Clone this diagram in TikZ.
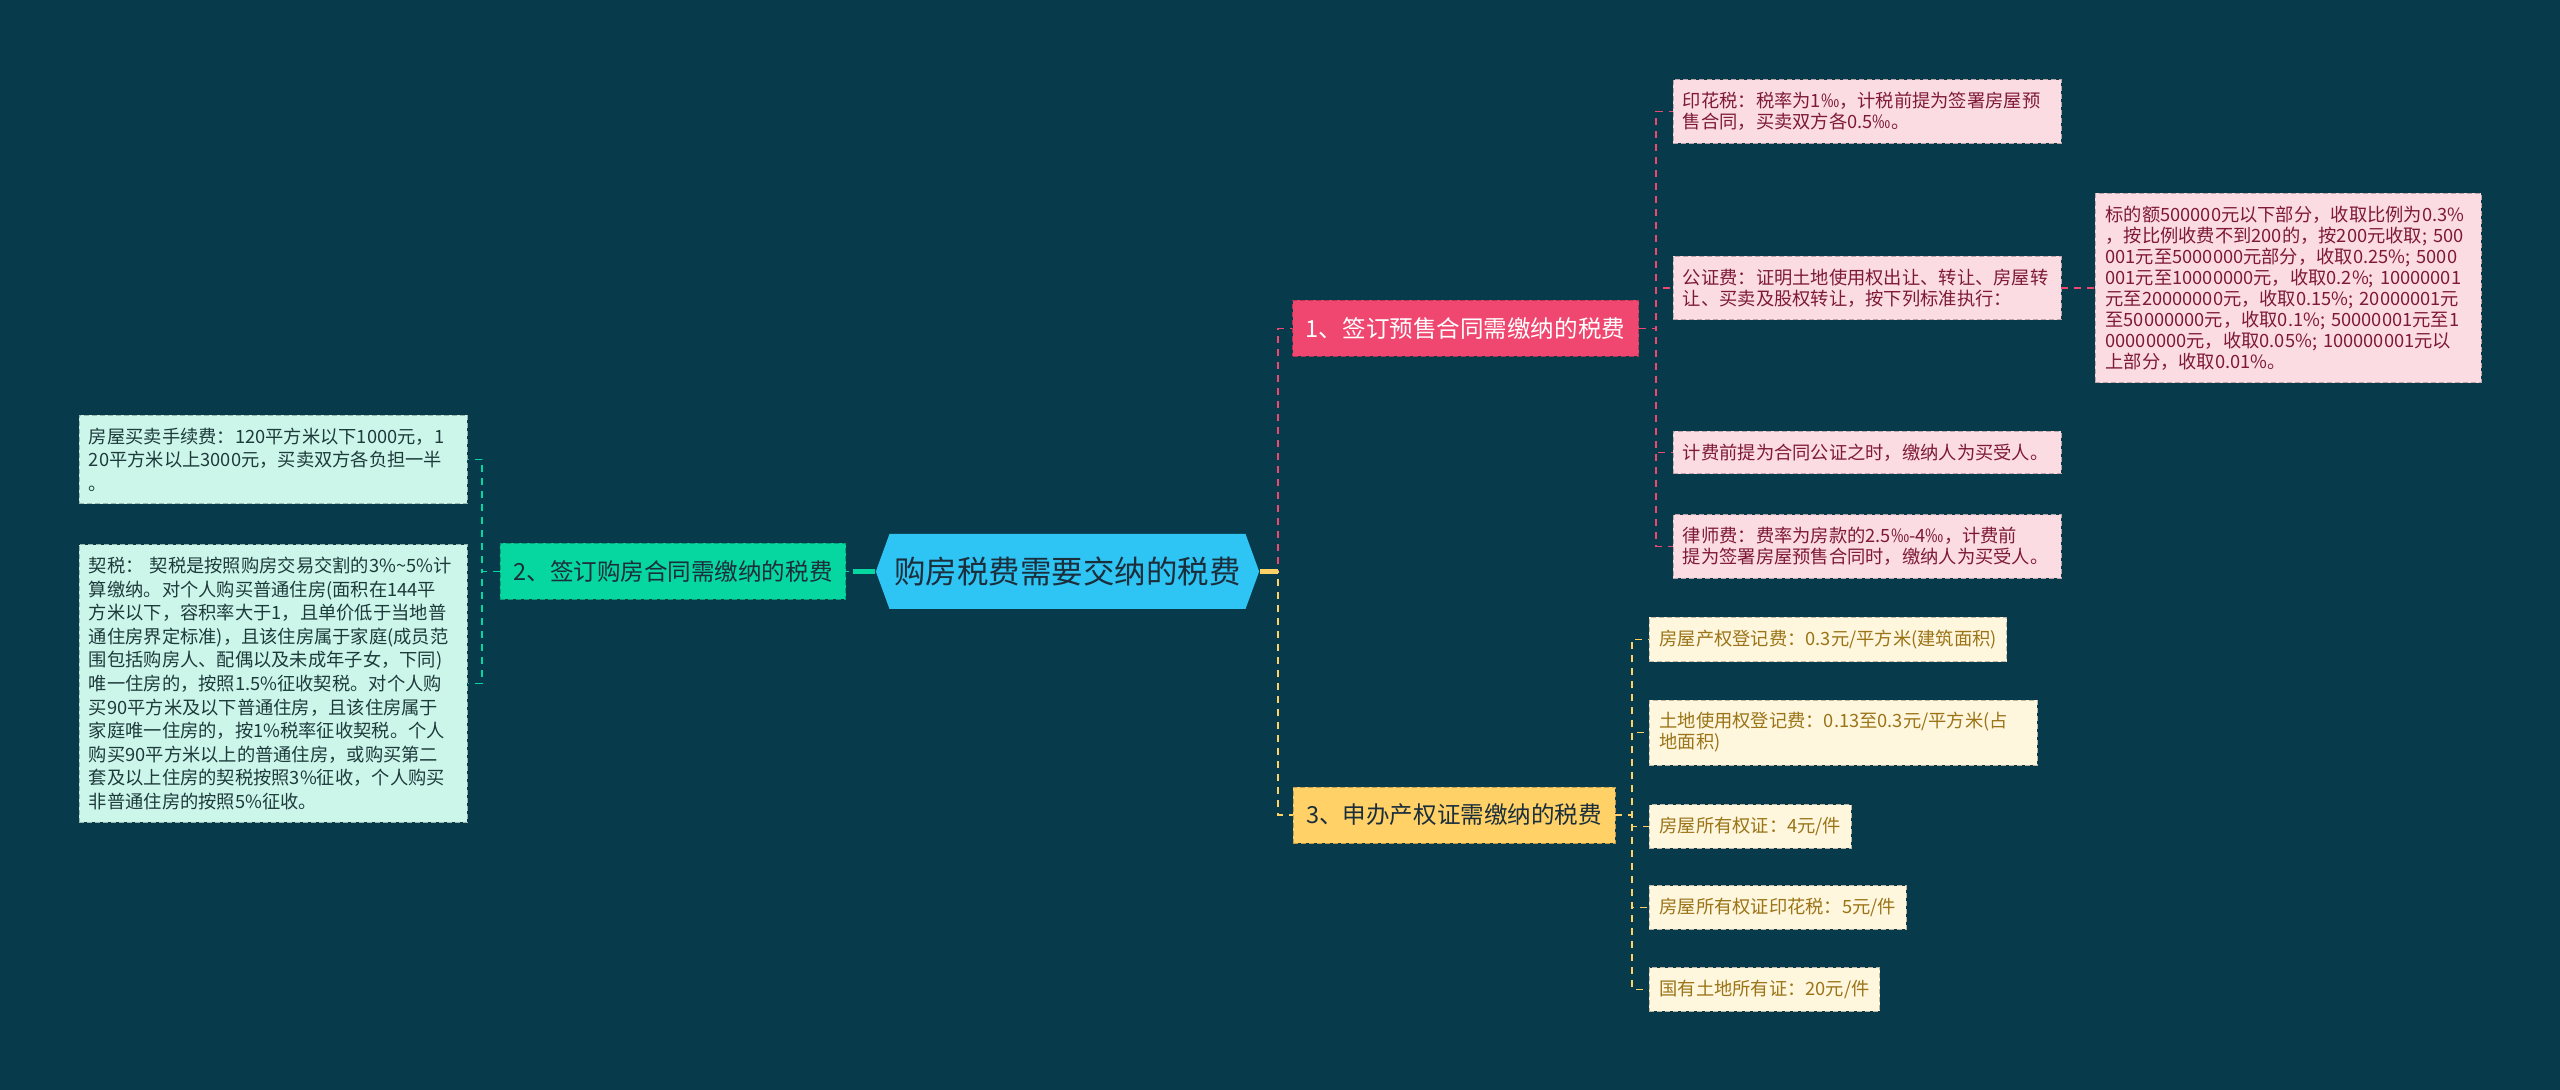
\documentclass[tikz,border=0pt]{standalone}
\usepackage{fontspec}
\setmainfont{Noto Sans CJK SC}
\usetikzlibrary{shapes.symbols}
\definecolor{bgc}{HTML}{073B4C}
\definecolor{rootc}{HTML}{2EC4F4}
\definecolor{redc}{HTML}{EF476F}
\definecolor{greenc}{HTML}{06D6A0}
\definecolor{yellowc}{HTML}{FFD166}
\definecolor{pinkbox}{HTML}{FCDCE3}
\definecolor{pinktext}{HTML}{7E1A38}
\definecolor{mintbox}{HTML}{CDF6EB}
\definecolor{minttext}{HTML}{1E3B3C}
\definecolor{creambox}{HTML}{FFF6DE}
\definecolor{creamtext}{HTML}{9A7417}
\definecolor{darktext}{HTML}{1B2E3C}

\begin{document}
\begin{tikzpicture}[
    rootnode/.style={shape=signal, signal to=east and west, signal pointer angle=140, fill=rootc, text=darktext, minimum width=7.58cm, minimum height=1.5cm, inner sep=0.1cm, font=\fontsize{17.9}{20}\selectfont},
    branch/.style={draw=#1!75!black, fill=#1, dash pattern=on 0.1cm off 0.06cm, line width=0.5pt, minimum height=1.12cm, inner xsep=0.22cm, font=\fontsize{13.4}{15}\selectfont},
    leaf/.style={dash pattern=on 0.1cm off 0.06cm, line width=0.5pt, anchor=west, align=left, inner xsep=0.2cm, inner ysep=0.25cm, font=\fontsize{10.4}{11.95}\selectfont},
    pinkleaf/.style={leaf, draw=pinkbox!75!black, fill=pinkbox, text=pinktext},
    creamleaf/.style={leaf, draw=creambox!75!black, fill=creambox, text=creamtext},
    mintleaf/.style={leaf, draw=mintbox!75!black, fill=mintbox, text=minttext, font=\fontsize{10.4}{13.4}\selectfont},
    link/.style={draw=#1, line width=1.1pt, dash pattern=on 0.14cm off 0.12cm},
    stub/.style={draw=#1, line width=2.3pt}
]
    \useasboundingbox (0,0) rectangle (51.2,21.8);
    \fill[bgc] (0,0) rectangle (51.2,21.8);

    \node[rootnode] (root) at (21.35,10.37) {购房税费需要交纳的税费};

    \node[branch=redc, text=white, minimum width=6.92cm] (sign) at (29.31,15.23) {1、签订预售合同需缴纳的税费};
    \node[branch=greenc, text=darktext, minimum width=6.91cm] (buy) at (13.46,10.37) {2、签订购房合同需缴纳的税费};
    \node[branch=yellowc, text=darktext, minimum width=6.44cm] (permit) at (29.08,5.50) {3、申办产权证需缴纳的税费};

    \node[pinkleaf, text width=7.36cm] (stamp) at (33.45,19.57) {印花税：税率为1‰，计税前提为签署房屋预\\售合同，买卖双方各0.5‰。};
    \node[pinkleaf, text width=7.36cm] (notary) at (33.45,16.04) {公证费：证明土地使用权出让、转让、房屋转\\让、买卖及股权转让，按下列标准执行：};
    \node[pinkleaf, text width=7.36cm] (timing) at (33.45,12.75) {计费前提为合同公证之时，缴纳人为买受人。};
    \node[pinkleaf, text width=7.36cm] (lawyer) at (33.45,10.87) {律师费：费率为房款的2.5‰-4‰，计费前\\提为签署房屋预售合同时，缴纳人为买受人。};
    \node[pinkleaf, text width=7.31cm] (scale) at (41.90,16.04) {标的额500000元以下部分，收取比例为0.3\%\\，按比例收费不到200的，按200元收取;~500\\001元至5000000元部分，收取0.25\%;~5000\\001元至10000000元，收取0.2\%;~10000001\\元至20000000元，收取0.15\%;~20000001元\\至50000000元，收取0.1\%;~50000001元至1\\00000000元，收取0.05\%;~100000001元以\\上部分，收取0.01\%。};

    \node[creamleaf] (regfee) at (32.98,9.01) {房屋产权登记费：0.3元/平方米(建筑面积)};
    \node[creamleaf, text width=7.36cm] (landfee) at (32.98,7.15) {土地使用权登记费：0.13至0.3元/平方米(占\\地面积)};
    \node[creamleaf] (certfee) at (32.98,3.65+1.62) {房屋所有权证：4元/件};
    \node[creamleaf] (certstamp) at (32.98,3.65) {房屋所有权证印花税：5元/件};
    \node[creamleaf] (landcert) at (32.98,2.01) {国有土地所有证：20元/件};

    \node[mintleaf, text width=7.37cm] (agency) at (1.57,12.61) {房屋买卖手续费：120平方米以下1000元，1\\20平方米以上3000元，买卖双方各负担一半\\。};
    \node[mintleaf, text width=7.37cm] (deed) at (1.57,8.13) {契税：~契税是按照购房交易交割的3\%\textasciitilde5\%计\\算缴纳。对个人购买普通住房(面积在144平\\方米以下，容积率大于1，且单价低于当地普\\通住房界定标准)，且该住房属于家庭(成员范\\围包括购房人、配偶以及未成年子女，下同)\\唯一住房的，按照1.5\%征收契税。对个人购\\买90平方米及以下普通住房，且该住房属于\\家庭唯一住房的，按1\%税率征收契税。个人\\购买90平方米以上的普通住房，或购买第二\\套及以上住房的契税按照3\%征收，个人购买\\非普通住房的按照5\%征收。};

    \draw[link=redc] (root.east) -- ++(0.37,0) |- (sign.west);
    \draw[link=yellowc] (root.east) -- ++(0.37,0) |- (permit.west);
    \draw[stub=yellowc] (root.east) -- ++(0.37,0);
    \draw[link=greenc] (root.west) -- (buy.east);
    \draw[stub=greenc] (root.west) -- ++(-0.44,0);

    \draw[link=redc] (sign.east) -- ++(0.35,0) |- (stamp.west);
    \draw[link=redc] (sign.east) -- ++(0.35,0) |- (notary.west);
    \draw[link=redc] (sign.east) -- ++(0.35,0) |- (timing.west);
    \draw[link=redc] (sign.east) -- ++(0.35,0) |- (lawyer.west);
    \draw[link=redc] (notary.east) -- (scale.west);

    \draw[link=yellowc] (permit.east) -- ++(0.33,0) |- (regfee.west);
    \draw[link=yellowc] (permit.east) -- ++(0.33,0) |- (landfee.west);
    \draw[link=yellowc] (permit.east) -- ++(0.33,0) |- (certfee.west);
    \draw[link=yellowc] (permit.east) -- ++(0.33,0) |- (certstamp.west);
    \draw[link=yellowc] (permit.east) -- ++(0.33,0) |- (landcert.west);

    \draw[link=greenc] (buy.west) -- ++(-0.36,0) |- (agency.east);
    \draw[link=greenc] (buy.west) -- ++(-0.36,0) |- (deed.east);
\end{tikzpicture}
\end{document}
